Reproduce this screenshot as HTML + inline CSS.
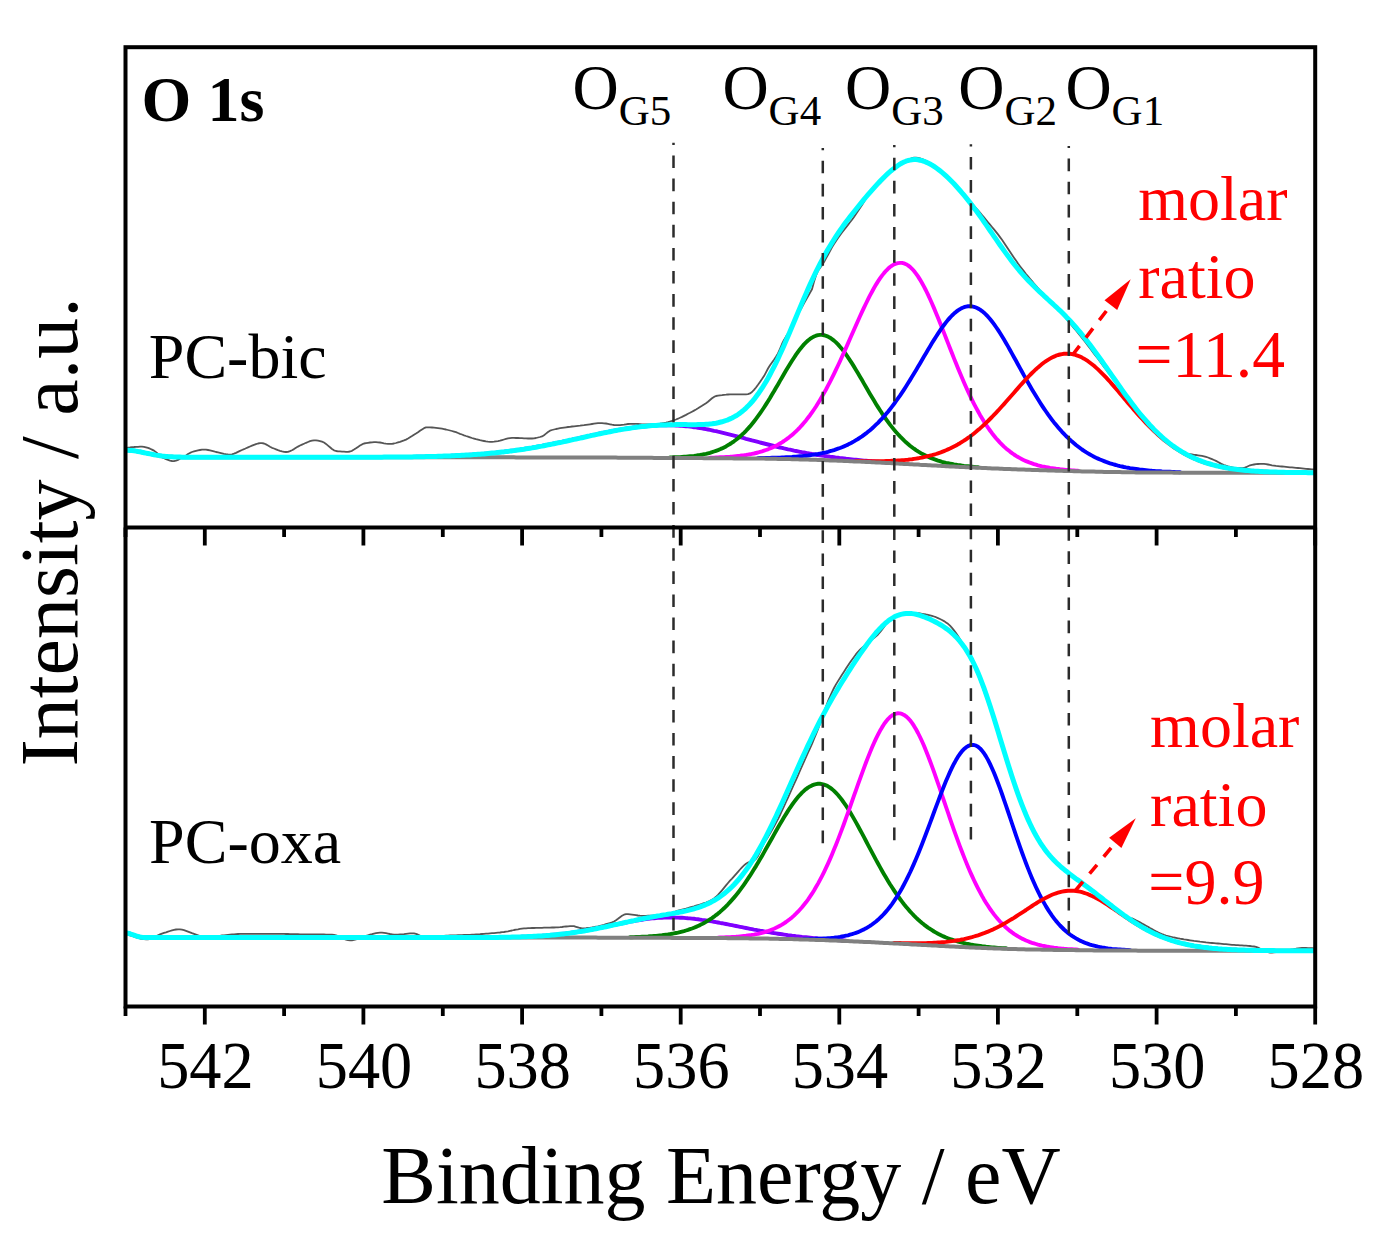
<!DOCTYPE html>
<html><head><meta charset="utf-8"><style>
html,body{margin:0;padding:0;background:#fff;width:1389px;height:1253px;overflow:hidden}
svg{display:block}
text{font-family:"Liberation Serif",serif}
</style></head><body>
<svg width="1389" height="1253" viewBox="0 0 1389 1253">
<defs>
<clipPath id="cu"><rect x="125.5" y="47.2" width="1189.7" height="480.3"/></clipPath>
<clipPath id="cl"><rect x="125.5" y="527.5" width="1189.7" height="479.0"/></clipPath>
</defs>
<rect width="1389" height="1253" fill="#fff"/>
<g clip-path="url(#cu)" fill="none" stroke-linejoin="round" stroke-linecap="round">
<path d="M126,448.5 128,447.6 130,447.4 132,447.1 134,447.0 136,446.8 138,446.8 140,446.7 142,446.7 144,446.8 146,447.3 148,447.9 150,448.7 152,449.6 154,450.6 156,452.1 158,454.0 160,455.9 162,457.4 164,458.3 166,459.2 168,459.9 170,460.6 172,461.0 174,461.1 176,460.7 178,459.9 180,458.8 182,457.7 184,456.6 186,455.4 188,454.1 190,452.9 192,452.0 194,451.4 196,450.8 198,450.3 200,450.0 202,449.7 204,449.6 206,449.7 208,450.0 210,450.4 212,450.9 214,451.4 216,452.0 218,452.4 220,452.8 222,453.3 224,453.8 226,454.2 228,454.5 230,454.6 232,454.4 234,453.7 236,452.9 238,451.9 240,450.9 242,450.0 244,449.2 246,448.3 248,447.4 250,446.5 252,445.6 254,444.8 256,444.1 258,443.5 260,443.2 262,443.1 264,443.5 266,444.4 268,445.5 270,446.7 272,447.8 274,448.5 276,449.3 278,450.1 280,450.8 282,451.4 284,451.8 286,452.0 288,451.8 290,451.1 292,450.2 294,449.1 296,447.8 298,446.6 300,445.5 302,444.6 304,443.7 306,442.8 308,442.0 310,441.2 312,440.7 314,440.3 316,440.3 318,440.6 320,441.1 322,441.7 324,442.5 326,443.9 328,445.6 330,447.3 332,449.0 334,450.3 336,451.0 338,451.3 340,451.4 342,451.6 344,451.7 346,451.8 348,451.8 350,451.5 352,450.8 354,449.6 356,448.3 358,446.9 360,445.6 362,444.4 364,443.5 366,443.1 368,442.8 370,442.5 372,442.3 374,442.1 376,442.1 378,442.3 380,442.5 382,442.9 384,443.3 386,443.6 388,443.8 390,443.9 392,443.8 394,443.5 396,443.0 398,442.4 400,441.8 402,441.1 404,440.4 406,439.6 408,438.5 410,437.3 412,436.1 414,434.8 416,433.6 418,432.3 420,430.8 422,429.4 424,428.2 426,427.4 428,427.3 430,427.4 432,427.5 434,427.7 436,427.9 438,428.1 440,428.3 442,428.7 444,429.1 446,429.5 448,430.0 450,430.5 452,431.0 454,431.6 456,432.2 458,433.0 460,433.8 462,434.5 464,435.3 466,436.0 468,436.6 470,437.3 472,438.0 474,438.6 476,439.2 478,439.7 480,440.2 482,440.6 484,441.0 486,441.4 488,441.7 490,441.8 492,441.8 494,441.6 496,441.3 498,441.1 500,440.7 502,440.1 504,439.5 506,438.9 508,438.4 510,438.1 512,437.9 514,437.9 516,438.0 518,438.0 520,438.1 522,438.2 524,438.3 526,438.4 528,438.5 530,438.5 532,438.5 534,438.3 536,438.0 538,437.5 540,437.0 542,436.4 544,435.2 546,433.6 548,432.0 550,430.7 552,430.0 554,429.5 556,429.0 558,428.6 560,428.2 562,427.9 564,427.6 566,427.3 568,427.0 570,426.8 572,426.5 574,426.3 576,426.1 578,425.9 580,425.7 582,425.4 584,425.2 586,424.9 588,424.6 590,424.3 592,424.0 594,423.7 596,423.4 598,423.2 600,423.1 602,423.1 604,423.3 606,423.5 608,423.9 610,424.3 612,424.7 614,425.0 616,425.2 618,425.2 620,425.1 622,424.8 624,424.6 626,424.3 628,424.0 630,423.8 632,423.8 634,423.8 636,423.9 638,424.0 640,424.1 642,424.3 644,424.4 646,424.4 648,424.5 650,424.5 652,424.4 654,424.3 656,424.1 658,423.8 660,423.6 662,423.3 664,423.0 666,422.6 668,422.1 670,421.5 672,420.9 674,420.2 676,419.5 678,418.7 680,417.8 682,416.9 684,415.9 686,414.9 688,413.8 690,412.8 692,411.7 694,410.6 696,409.5 698,408.3 700,407.0 702,405.8 704,404.5 706,403.2 708,401.7 710,400.0 712,398.3 714,396.9 716,396.0 718,395.6 720,395.3 722,395.1 724,394.8 726,394.7 728,394.5 730,394.4 732,394.3 734,394.3 736,394.3 738,394.3 740,394.3 742,394.3 744,394.3 746,394.3 748,394.2 750,393.4 752,392.0 754,389.9 756,387.5 758,384.8 760,381.9 762,379.1 764,376.1 766,372.4 768,368.5 770,365.2 772,362.4 774,359.7 776,356.8 778,353.4 780,348.8 782,344.0 784,339.9 786,336.6 788,333.6 790,330.5 792,326.9 794,322.8 796,318.6 798,314.5 800,310.7 802,307.0 804,303.3 806,299.7 808,296.2 810,292.7 812,289.3 814,281.8 816,275.4 818,270.8 820,267.9 822,265.3 824,262.1 826,258.4 828,254.7 830,251.0 832,247.4 834,244.1 836,240.9 838,238.0 840,235.2 842,232.5 844,229.9 846,227.4 848,224.9 850,222.3 852,219.7 854,216.9 856,214.0 858,211.0 860,208.0 862,205.0 864,201.7 866,198.0 868,194.7 870,192.4 872,190.5 874,188.7 876,187.0 878,185.2 880,183.3 882,181.2 884,179.1 886,177.1 888,175.1 890,173.1 892,171.3 894,169.5 896,167.8 898,166.3 900,164.8 902,163.4 904,162.2 906,161.1 908,160.0 910,159.0 912,158.2 914,157.7 916,157.6 918,157.9 920,158.3 922,159.0 924,159.8 926,160.7 928,161.8 930,163.0 932,164.2 934,165.6 936,167.1 938,168.7 940,170.4 942,172.1 944,174.0 946,175.9 948,177.8 950,179.7 952,181.8 954,183.8 956,185.8 958,187.9 960,190.0 962,192.2 964,194.4 966,196.6 968,198.9 970,201.2 972,203.5 974,205.8 976,208.1 978,210.4 980,212.7 982,215.0 984,217.4 986,219.9 988,222.3 990,224.7 992,227.0 994,229.4 996,231.9 998,234.4 1000,237.1 1002,239.8 1004,242.7 1006,245.7 1008,248.7 1010,251.7 1012,254.7 1014,257.7 1016,260.6 1018,263.5 1020,266.2 1022,268.8 1024,271.4 1026,274.0 1028,276.4 1030,278.8 1032,281.2 1034,283.5 1036,285.8 1038,288.1 1040,290.3 1042,292.4 1044,294.6 1046,296.7 1048,298.8 1050,300.9 1052,303.0 1054,305.1 1056,307.2 1058,309.4 1060,311.6 1062,313.8 1064,316.1 1066,318.4 1068,320.8 1070,323.3 1072,325.7 1074,328.1 1076,330.5 1078,332.9 1080,335.4 1082,337.9 1084,340.5 1086,343.0 1088,345.7 1090,348.3 1092,350.9 1094,353.6 1096,356.2 1098,358.8 1100,361.5 1102,364.2 1104,366.9 1106,369.5 1108,372.2 1110,374.8 1112,377.5 1114,380.1 1116,382.8 1118,385.4 1120,388.0 1122,390.5 1124,393.1 1126,395.6 1128,398.2 1130,400.8 1132,403.5 1134,406.1 1136,408.7 1138,411.2 1140,413.7 1142,416.1 1144,418.4 1146,420.7 1148,423.0 1150,425.2 1152,427.3 1154,429.4 1156,431.4 1158,433.3 1160,435.2 1162,437.0 1164,438.8 1166,440.5 1168,442.1 1170,443.7 1172,445.2 1174,446.6 1176,448.0 1178,449.4 1180,450.6 1182,452.4 1184,453.0 1186,453.5 1188,453.9 1190,454.2 1192,454.5 1194,454.8 1196,455.0 1198,455.3 1200,455.6 1202,455.9 1204,456.3 1206,456.9 1208,457.5 1210,458.3 1212,459.1 1214,460.0 1216,460.9 1218,462.0 1220,463.1 1222,464.2 1224,465.0 1226,465.7 1228,466.3 1230,466.8 1232,467.3 1234,467.7 1236,467.8 1238,468.0 1240,468.0 1242,468.1 1244,468.0 1246,467.2 1248,466.2 1250,465.3 1252,464.8 1254,464.5 1256,464.2 1258,464.0 1260,463.9 1262,463.8 1264,463.9 1266,464.1 1268,464.5 1270,464.9 1272,465.3 1274,465.6 1276,465.9 1278,466.1 1280,466.3 1282,466.5 1284,466.7 1286,466.9 1288,467.1 1290,467.3 1292,467.4 1294,467.6 1296,467.8 1298,468.0 1300,468.2 1302,468.4 1304,468.6 1306,468.8 1308,469.0 1310,469.2 1312,469.4 1314,469.5 1314,469.6" stroke="#555" stroke-width="1.8"/>
<path d="M416,456.8 418,456.8 420,456.7 422,456.7 424,456.6 426,456.6 428,456.6 430,456.5 432,456.5 434,456.4 436,456.3 438,456.3 440,456.2 442,456.2 444,456.1 446,456.0 448,455.9 450,455.9 452,455.8 454,455.7 456,455.6 458,455.5 460,455.4 462,455.3 464,455.2 466,455.1 468,454.9 470,454.8 472,454.7 474,454.6 476,454.4 478,454.3 480,454.1 482,453.9 484,453.8 486,453.6 488,453.4 490,453.2 492,453.1 494,452.9 496,452.6 498,452.4 500,452.2 502,452.0 504,451.8 506,451.5 508,451.3 510,451.0 512,450.7 514,450.5 516,450.2 518,449.9 520,449.6 522,449.3 524,449.0 526,448.7 528,448.4 530,448.0 532,447.7 534,447.3 536,447.0 538,446.6 540,446.3 542,445.9 544,445.5 546,445.1 548,444.7 550,444.3 552,443.9 554,443.5 556,443.1 558,442.7 560,442.3 562,441.9 564,441.4 566,441.0 568,440.6 570,440.1 572,439.7 574,439.2 576,438.8 578,438.3 580,437.9 582,437.4 584,437.0 586,436.6 588,436.1 590,435.7 592,435.2 594,434.8 596,434.4 598,433.9 600,433.5 602,433.1 604,432.7 606,432.3 608,431.9 610,431.5 612,431.1 614,430.7 616,430.3 618,430.0 620,429.6 622,429.3 624,429.0 626,428.6 628,428.3 630,428.0 632,427.8 634,427.5 636,427.2 638,427.0 640,426.8 642,426.6 644,426.4 646,426.2 648,426.0 650,425.9 652,425.7 654,425.6 656,425.5 658,425.4 660,425.4 662,425.3 664,425.3 666,425.3 668,425.3 670,425.3 672,425.3 674,425.4 676,425.5 678,425.6 680,425.7 682,425.8 684,426.0 686,426.2 688,426.4 690,426.6 692,426.9 694,427.2 696,427.4 698,427.8 700,428.1 702,428.4 704,428.8 706,429.1 708,429.5 710,429.9 712,430.3 714,430.8 716,431.2 718,431.7 720,432.1 722,432.6 724,433.1 726,433.6 728,434.1 730,434.6 732,435.1 734,435.6 736,436.1 738,436.6 740,437.2 742,437.7 744,438.2 746,438.8 748,439.3 750,439.8 752,440.4 754,440.9 756,441.4 758,441.9 760,442.5 762,443.0 764,443.5 766,444.0 768,444.5 770,445.0 772,445.5 774,446.0 776,446.5 778,447.0 780,447.5 782,447.9 784,448.4 786,448.8 788,449.3 790,449.7 792,450.1 794,450.6 796,451.0 798,451.4 800,451.8 802,452.2 804,452.5 806,452.9 808,453.3 810,453.6 812,454.0 814,454.3 816,454.7 818,455.0 820,455.3 822,455.6 824,455.9 826,456.2 828,456.5 830,456.8 832,457.0 834,457.3 836,457.6 838,457.8 840,458.1 842,458.3 844,458.5 846,458.8 848,459.0 850,459.2 852,459.4 854,459.6 856,459.8 858,460.0 860,460.2 862,460.4 864,460.6 866,460.7 868,460.9 870,461.1 872,461.3 874,461.4 876,461.6 878,461.7 880,461.9 882,462.1 884,462.2 886,462.4 888,462.5 890,462.7 892,462.7" stroke="#7F00FF" stroke-width="3.9"/>
<path d="M670,457.5 672,457.4 674,457.3 676,457.2 678,457.2 680,457.1 682,456.9 684,456.8 686,456.7 688,456.5 690,456.3 692,456.1 694,455.9 696,455.6 698,455.3 700,455.0 702,454.6 704,454.2 706,453.8 708,453.3 710,452.8 712,452.2 714,451.5 716,450.8 718,450.1 720,449.3 722,448.4 724,447.4 726,446.4 728,445.2 730,444.0 732,442.7 734,441.3 736,439.8 738,438.2 740,436.5 742,434.7 744,432.8 746,430.8 748,428.6 750,426.4 752,424.0 754,421.5 756,418.9 758,416.2 760,413.4 762,410.5 764,407.5 766,404.4 768,401.2 770,398.0 772,394.6 774,391.3 776,387.8 778,384.4 780,380.9 782,377.5 784,374.0 786,370.6 788,367.3 790,364.0 792,360.8 794,357.7 796,354.7 798,351.9 800,349.2 802,346.7 804,344.4 806,342.4 808,340.5 810,338.9 812,337.6 814,336.5 816,335.7 818,335.1 820,334.9 822,334.9 824,335.2 826,335.8 828,336.6 830,337.7 832,339.1 834,340.6 836,342.4 838,344.4 840,346.7 842,349.1 844,351.6 846,354.4 848,357.3 850,360.3 852,363.4 854,366.6 856,369.9 858,373.3 860,376.7 862,380.1 864,383.6 866,387.0 868,390.5 870,393.9 872,397.3 874,400.6 876,403.9 878,407.1 880,410.2 882,413.3 884,416.2 886,419.1 888,421.9 890,424.6 892,427.1 894,429.6 896,432.0 898,434.2 900,436.4 902,438.4 904,440.4 906,442.3 908,444.0 910,445.7 912,447.2 914,448.7 916,450.1 918,451.4 920,452.6 922,453.8 924,454.8 926,455.8 928,456.8 930,457.6 932,458.5 934,459.2 936,459.9 938,460.6 940,461.2 942,461.8 944,462.3 946,462.8 948,463.2 950,463.6 952,464.0 954,464.4 956,464.7 958,465.1 960,465.3 962,465.6 964,465.9 966,466.1 968,466.3 970,466.5 972,466.7 974,466.9 976,467.1 978,467.3" stroke="#008000" stroke-width="3.9"/>
<path d="M710,457.7 712,457.6 714,457.6 716,457.5 718,457.4 720,457.3 722,457.2 724,457.1 726,457.0 728,456.9 730,456.8 732,456.6 734,456.4 736,456.2 738,456.0 740,455.8 742,455.5 744,455.3 746,455.0 748,454.6 750,454.3 752,453.9 754,453.5 756,453.0 758,452.5 760,451.9 762,451.4 764,450.7 766,450.0 768,449.3 770,448.5 772,447.6 774,446.7 776,445.7 778,444.7 780,443.5 782,442.3 784,441.0 786,439.6 788,438.2 790,436.6 792,434.9 794,433.2 796,431.3 798,429.4 800,427.3 802,425.1 804,422.8 806,420.4 808,417.8 810,415.2 812,412.4 814,409.5 816,406.5 818,403.3 820,400.0 822,396.6 824,393.1 826,389.5 828,385.7 830,381.9 832,377.9 834,373.9 836,369.7 838,365.5 840,361.2 842,356.8 844,352.4 846,347.9 848,343.4 850,338.8 852,334.3 854,329.8 856,325.2 858,320.7 860,316.3 862,311.9 864,307.6 866,303.5 868,299.4 870,295.4 872,291.7 874,288.0 876,284.6 878,281.4 880,278.4 882,275.6 884,273.1 886,270.8 888,268.8 890,267.0 892,265.6 894,264.4 896,263.6 898,263.1 900,262.9 902,262.9 904,263.4 906,264.2 908,265.4 910,266.9 912,268.8 914,271.0 916,273.6 918,276.4 920,279.6 922,283.0 924,286.6 926,290.5 928,294.7 930,299.0 932,303.5 934,308.1 936,312.9 938,317.8 940,322.8 942,327.8 944,332.9 946,338.0 948,343.1 950,348.2 952,353.3 954,358.4 956,363.3 958,368.3 960,373.1 962,377.8 964,382.5 966,387.0 968,391.4 970,395.6 972,399.8 974,403.8 976,407.6 978,411.3 980,414.9 982,418.3 984,421.6 986,424.7 988,427.7 990,430.5 992,433.2 994,435.7 996,438.2 998,440.4 1000,442.6 1002,444.6 1004,446.6 1006,448.4 1008,450.0 1010,451.6 1012,453.1 1014,454.5 1016,455.8 1018,457.0 1020,458.1 1022,459.2 1024,460.2 1026,461.1 1028,461.9 1030,462.7 1032,463.4 1034,464.1 1036,464.7 1038,465.3 1040,465.8 1042,466.3 1044,466.7 1046,467.1 1048,467.5 1050,467.9 1052,468.2 1054,468.5 1056,468.8 1058,469.0 1060,469.3 1062,469.5 1064,469.7 1066,469.9 1068,470.0 1070,470.2 1072,470.4 1074,470.5 1076,470.6 1078,470.7" stroke="#FF00FF" stroke-width="3.9"/>
<path d="M758,458.1 760,458.0 762,458.0 764,458.0 766,457.9 768,457.9 770,457.9 772,457.8 774,457.8 776,457.7 778,457.6 780,457.6 782,457.5 784,457.4 786,457.3 788,457.2 790,457.1 792,457.0 794,456.8 796,456.7 798,456.5 800,456.3 802,456.1 804,455.9 806,455.7 808,455.5 810,455.2 812,454.9 814,454.6 816,454.3 818,454.0 820,453.6 822,453.2 824,452.7 826,452.3 828,451.8 830,451.2 832,450.7 834,450.1 836,449.4 838,448.7 840,448.0 842,447.2 844,446.4 846,445.5 848,444.6 850,443.6 852,442.5 854,441.4 856,440.2 858,439.0 860,437.7 862,436.4 864,434.9 866,433.4 868,431.8 870,430.2 872,428.5 874,426.6 876,424.7 878,422.8 880,420.7 882,418.6 884,416.4 886,414.0 888,411.7 890,409.2 892,406.6 894,404.0 896,401.2 898,398.4 900,395.6 902,392.6 904,389.6 906,386.5 908,383.3 910,380.1 912,376.8 914,373.5 916,370.2 918,366.8 920,363.4 922,360.0 924,356.6 926,353.2 928,349.8 930,346.4 932,343.1 934,339.9 936,336.7 938,333.6 940,330.6 942,327.7 944,325.0 946,322.4 948,319.9 950,317.6 952,315.5 954,313.6 956,311.9 958,310.4 960,309.1 962,308.0 964,307.2 966,306.6 968,306.3 970,306.2 972,306.4 974,306.8 976,307.5 978,308.5 980,309.7 982,311.1 984,312.7 986,314.6 988,316.7 990,319.0 992,321.5 994,324.1 996,327.0 998,329.9 1000,333.0 1002,336.2 1004,339.5 1006,342.9 1008,346.4 1010,350.0 1012,353.6 1014,357.2 1016,360.8 1018,364.5 1020,368.1 1022,371.7 1024,375.4 1026,378.9 1028,382.5 1030,386.0 1032,389.4 1034,392.8 1036,396.1 1038,399.3 1040,402.5 1042,405.6 1044,408.6 1046,411.5 1048,414.4 1050,417.1 1052,419.8 1054,422.4 1056,424.8 1058,427.2 1060,429.5 1062,431.8 1064,433.9 1066,436.0 1068,437.9 1070,439.8 1072,441.6 1074,443.3 1076,445.0 1078,446.5 1080,448.0 1082,449.5 1084,450.8 1086,452.1 1088,453.3 1090,454.5 1092,455.6 1094,456.7 1096,457.7 1098,458.6 1100,459.5 1102,460.3 1104,461.1 1106,461.9 1108,462.6 1110,463.3 1112,463.9 1114,464.5 1116,465.0 1118,465.6 1120,466.1 1122,466.5 1124,467.0 1126,467.4 1128,467.7 1130,468.1 1132,468.4 1134,468.7 1136,469.0 1138,469.3 1140,469.6 1142,469.8 1144,470.0 1146,470.2 1148,470.4 1150,470.6 1152,470.8 1154,470.9 1156,471.1 1158,471.2 1160,471.3 1162,471.5 1164,471.6 1166,471.7 1168,471.7 1170,471.8 1172,471.9 1174,472.0 1176,472.1 1178,472.1 1180,472.2" stroke="#0000FF" stroke-width="3.9"/>
<path d="M856,460.9 858,461.0 860,461.0 862,461.0 864,461.1 866,461.1 868,461.1 870,461.1 872,461.2 874,461.2 876,461.2 878,461.1 880,461.1 882,461.1 884,461.1 886,461.0 888,461.0 890,460.9 892,460.8 894,460.7 896,460.6 898,460.5 900,460.4 902,460.2 904,460.1 906,459.9 908,459.7 910,459.4 912,459.2 914,458.9 916,458.6 918,458.3 920,457.9 922,457.6 924,457.1 926,456.7 928,456.2 930,455.7 932,455.2 934,454.6 936,454.0 938,453.3 940,452.7 942,451.9 944,451.1 946,450.3 948,449.4 950,448.5 952,447.5 954,446.5 956,445.5 958,444.3 960,443.2 962,441.9 964,440.7 966,439.3 968,437.9 970,436.5 972,435.0 974,433.4 976,431.8 978,430.1 980,428.4 982,426.6 984,424.8 986,422.9 988,421.0 990,419.0 992,417.0 994,414.9 996,412.8 998,410.7 1000,408.5 1002,406.3 1004,404.1 1006,401.8 1008,399.5 1010,397.2 1012,395.0 1014,392.7 1016,390.4 1018,388.1 1020,385.8 1022,383.6 1024,381.4 1026,379.2 1028,377.1 1030,375.0 1032,373.0 1034,371.1 1036,369.2 1038,367.4 1040,365.7 1042,364.1 1044,362.5 1046,361.1 1048,359.8 1050,358.6 1052,357.5 1054,356.6 1056,355.7 1058,355.0 1060,354.5 1062,354.1 1064,353.8 1066,353.7 1068,353.7 1070,353.8 1072,354.1 1074,354.5 1076,355.1 1078,355.8 1080,356.6 1082,357.6 1084,358.7 1086,359.9 1088,361.2 1090,362.7 1092,364.2 1094,365.8 1096,367.6 1098,369.4 1100,371.3 1102,373.3 1104,375.3 1106,377.4 1108,379.6 1110,381.8 1112,384.1 1114,386.4 1116,388.7 1118,391.0 1120,393.4 1122,395.8 1124,398.1 1126,400.5 1128,402.9 1130,405.2 1132,407.5 1134,409.9 1136,412.1 1138,414.4 1140,416.6 1142,418.8 1144,421.0 1146,423.1 1148,425.1 1150,427.2 1152,429.1 1154,431.0 1156,432.9 1158,434.7 1160,436.5 1162,438.2 1164,439.9 1166,441.5 1168,443.0 1170,444.5 1172,445.9 1174,447.3 1176,448.7 1178,449.9 1180,451.2 1182,452.4 1184,453.5 1186,454.6 1188,455.6 1190,456.6 1192,457.5 1194,458.4 1196,459.3 1198,460.1 1200,460.9 1202,461.6 1204,462.3 1206,462.9 1208,463.6 1210,464.2 1212,464.7 1214,465.2 1216,465.7 1218,466.2 1220,466.7 1222,467.1 1224,467.5 1226,467.8 1228,468.2 1230,468.5 1232,468.8 1234,469.1 1236,469.4 1238,469.6 1240,469.8 1242,470.1 1244,470.3 1246,470.5 1248,470.6 1250,470.8 1252,471.0 1254,471.1 1256,471.2 1258,471.4 1260,471.5 1262,471.6 1264,471.7 1266,471.8 1268,471.9 1270,471.9 1272,472.0 1274,472.1 1276,472.1 1278,472.2 1280,472.2 1282,472.3" stroke="#FF0000" stroke-width="3.9"/>
<path d="M126,450.3 128,450.3 130,450.4 132,450.6 134,450.8 136,451.1 138,451.5 140,451.8 142,452.3 144,452.7 146,453.1 148,453.5 150,453.9 152,454.3 154,454.7 156,455.1 158,455.4 160,455.7 162,456.0 164,456.2 166,456.4 168,456.6 170,456.7 172,456.8 174,456.9 176,457.0 178,457.1 180,457.1 182,457.2 184,457.2 186,457.2 188,457.2 190,457.3 192,457.3 194,457.3 196,457.3 198,457.3 200,457.3 202,457.3 204,457.3 206,457.3 208,457.3 210,457.3 212,457.3 214,457.3 216,457.3 218,457.3 220,457.3 222,457.3 224,457.3 226,457.3 228,457.3 230,457.3 232,457.3 234,457.3 236,457.3 238,457.3 240,457.3 242,457.3 244,457.3 246,457.3 248,457.3 250,457.3 252,457.3 254,457.3 256,457.3 258,457.3 260,457.3 262,457.3 264,457.3 266,457.3 268,457.3 270,457.3 272,457.3 274,457.3 276,457.3 278,457.3 280,457.3 282,457.3 284,457.3 286,457.3 288,457.3 290,457.3 292,457.3 294,457.3 296,457.3 298,457.3 300,457.3 302,457.3 304,457.3 306,457.3 308,457.3 310,457.3 312,457.3 314,457.3 316,457.3 318,457.3 320,457.3 322,457.3 324,457.3 326,457.3 328,457.3 330,457.3 332,457.3 334,457.3 336,457.3 338,457.3 340,457.3 342,457.3 344,457.3 346,457.3 348,457.3 350,457.3 352,457.3 354,457.3 356,457.3 358,457.3 360,457.3 362,457.3 364,457.3 366,457.3 368,457.3 370,457.3 372,457.3 374,457.3 376,457.3 378,457.3 380,457.3 382,457.3 384,457.3 386,457.3 388,457.3 390,457.3 392,457.3 394,457.3 396,457.3 398,457.3 400,457.3 402,457.3 404,457.3 406,457.3 408,457.3 410,457.3 412,457.3 414,457.3 416,457.3 418,457.3 420,457.3 422,457.3 424,457.3 426,457.3 428,457.3 430,457.3 432,457.3 434,457.3 436,457.3 438,457.3 440,457.3 442,457.3 444,457.3 446,457.3 448,457.3 450,457.3 452,457.3 454,457.3 456,457.3 458,457.3 460,457.3 462,457.3 464,457.3 466,457.3 468,457.3 470,457.3 472,457.3 474,457.3 476,457.3 478,457.3 480,457.3 482,457.3 484,457.3 486,457.3 488,457.3 490,457.3 492,457.3 494,457.3 496,457.3 498,457.3 500,457.3 502,457.3 504,457.3 506,457.3 508,457.3 510,457.3 512,457.3 514,457.3 516,457.4 518,457.4 520,457.4 522,457.4 524,457.4 526,457.4 528,457.4 530,457.4 532,457.4 534,457.4 536,457.4 538,457.4 540,457.4 542,457.4 544,457.4 546,457.4 548,457.4 550,457.4 552,457.4 554,457.4 556,457.4 558,457.4 560,457.4 562,457.4 564,457.4 566,457.5 568,457.5 570,457.5 572,457.5 574,457.5 576,457.5 578,457.5 580,457.5 582,457.5 584,457.5 586,457.5 588,457.5 590,457.5 592,457.5 594,457.5 596,457.6 598,457.6 600,457.6 602,457.6 604,457.6 606,457.6 608,457.6 610,457.6 612,457.6 614,457.6 616,457.6 618,457.7 620,457.7 622,457.7 624,457.7 626,457.7 628,457.7 630,457.7 632,457.7 634,457.7 636,457.8 638,457.8 640,457.8 642,457.8 644,457.8 646,457.8 648,457.8 650,457.8 652,457.8 654,457.9 656,457.9 658,457.9 660,457.9 662,457.9 664,457.9 666,457.9 668,457.9 670,458.0 672,458.0 674,458.0 676,458.0 678,458.0 680,458.0 682,458.0 684,458.0 686,458.0 688,458.1 690,458.1 692,458.1 694,458.1 696,458.1 698,458.1 700,458.1 702,458.1 704,458.2 706,458.2 708,458.2 710,458.2 712,458.2 714,458.2 716,458.2 718,458.2 720,458.3 722,458.3 724,458.3 726,458.3 728,458.3 730,458.3 732,458.3 734,458.4 736,458.4 738,458.4 740,458.4 742,458.4 744,458.4 746,458.4 748,458.5 750,458.5 752,458.5 754,458.5 756,458.5 758,458.6 760,458.6 762,458.6 764,458.6 766,458.7 768,458.7 770,458.7 772,458.8 774,458.8 776,458.8 778,458.9 780,458.9 782,458.9 784,459.0 786,459.0 788,459.1 790,459.1 792,459.2 794,459.2 796,459.3 798,459.3 800,459.4 802,459.4 804,459.5 806,459.5 808,459.6 810,459.7 812,459.7 814,459.8 816,459.8 818,459.9 820,460.0 822,460.1 824,460.1 826,460.2 828,460.3 830,460.4 832,460.4 834,460.5 836,460.6 838,460.7 840,460.8 842,460.8 844,460.9 846,461.0 848,461.1 850,461.2 852,461.3 854,461.4 856,461.5 858,461.5 860,461.6 862,461.7 864,461.8 866,461.9 868,462.0 870,462.1 872,462.2 874,462.3 876,462.4 878,462.5 880,462.6 882,462.7 884,462.8 886,462.9 888,463.0 890,463.1 892,463.2 894,463.3 896,463.4 898,463.6 900,463.7 902,463.8 904,463.9 906,464.0 908,464.1 910,464.2 912,464.3 914,464.4 916,464.5 918,464.6 920,464.8 922,464.9 924,465.0 926,465.1 928,465.2 930,465.3 932,465.4 934,465.5 936,465.6 938,465.7 940,465.8 942,466.0 944,466.1 946,466.2 948,466.3 950,466.4 952,466.5 954,466.6 956,466.7 958,466.8 960,466.9 962,467.0 964,467.1 966,467.2 968,467.3 970,467.4 972,467.5 974,467.6 976,467.7 978,467.8 980,467.8 982,467.9 984,468.0 986,468.1 988,468.2 990,468.3 992,468.4 994,468.5 996,468.5 998,468.6 1000,468.7 1002,468.8 1004,468.9 1006,468.9 1008,469.0 1010,469.1 1012,469.2 1014,469.3 1016,469.3 1018,469.4 1020,469.5 1022,469.5 1024,469.6 1026,469.7 1028,469.8 1030,469.8 1032,469.9 1034,470.0 1036,470.0 1038,470.1 1040,470.2 1042,470.2 1044,470.3 1046,470.3 1048,470.4 1050,470.5 1052,470.5 1054,470.6 1056,470.7 1058,470.7 1060,470.8 1062,470.8 1064,470.9 1066,470.9 1068,471.0 1070,471.0 1072,471.1 1074,471.2 1076,471.2 1078,471.3 1080,471.3 1082,471.4 1084,471.4 1086,471.5 1088,471.5 1090,471.6 1092,471.6 1094,471.6 1096,471.7 1098,471.7 1100,471.8 1102,471.8 1104,471.9 1106,471.9 1108,471.9 1110,472.0 1112,472.0 1114,472.0 1116,472.1 1118,472.1 1120,472.1 1122,472.2 1124,472.2 1126,472.2 1128,472.3 1130,472.3 1132,472.3 1134,472.3 1136,472.4 1138,472.4 1140,472.4 1142,472.4 1144,472.4 1146,472.5 1148,472.5 1150,472.5 1152,472.5 1154,472.5 1156,472.5 1158,472.6 1160,472.6 1162,472.6 1164,472.6 1166,472.6 1168,472.6 1170,472.6 1172,472.6 1174,472.7 1176,472.7 1178,472.7 1180,472.7 1182,472.7 1184,472.7 1186,472.7 1188,472.7 1190,472.7 1192,472.7 1194,472.7 1196,472.7 1198,472.7 1200,472.7 1202,472.7 1204,472.7 1206,472.8 1208,472.8 1210,472.8 1212,472.8 1214,472.8 1216,472.8 1218,472.8 1220,472.8 1222,472.8 1224,472.8 1226,472.8 1228,472.8 1230,472.8 1232,472.8 1234,472.8 1236,472.8 1238,472.8 1240,472.8 1242,472.8 1244,472.8 1246,472.8 1248,472.8 1250,472.8 1252,472.8 1254,472.8 1256,472.8 1258,472.8 1260,472.8 1262,472.8 1264,472.8 1266,472.8 1268,472.8 1270,472.8 1272,472.8 1274,472.8 1276,472.8 1278,472.8 1280,472.8 1282,472.8 1284,472.8 1286,472.8 1288,472.8 1290,472.8 1292,472.8 1294,472.8 1296,472.8 1298,472.8 1300,472.8 1302,472.8 1304,472.8 1306,472.8 1308,472.8 1310,472.8 1312,472.8 1314,472.8 1314,472.8" stroke="#808080" stroke-width="4"/>
<path d="M126,450.3 128,450.3 130,450.4 132,450.6 134,450.8 136,451.1 138,451.5 140,451.8 142,452.3 144,452.7 146,453.1 148,453.5 150,453.9 152,454.3 154,454.7 156,455.1 158,455.4 160,455.7 162,456.0 164,456.2 166,456.4 168,456.6 170,456.7 172,456.8 174,456.9 176,457.0 178,457.1 180,457.1 182,457.2 184,457.2 186,457.2 188,457.2 190,457.3 192,457.3 194,457.3 196,457.3 198,457.3 200,457.3 202,457.3 204,457.3 206,457.3 208,457.3 210,457.3 212,457.3 214,457.3 216,457.3 218,457.3 220,457.3 222,457.3 224,457.3 226,457.3 228,457.3 230,457.3 232,457.3 234,457.3 236,457.3 238,457.3 240,457.3 242,457.3 244,457.3 246,457.3 248,457.3 250,457.3 252,457.3 254,457.3 256,457.3 258,457.3 260,457.3 262,457.3 264,457.3 266,457.3 268,457.3 270,457.3 272,457.3 274,457.3 276,457.3 278,457.3 280,457.3 282,457.3 284,457.3 286,457.3 288,457.3 290,457.3 292,457.3 294,457.3 296,457.3 298,457.3 300,457.3 302,457.3 304,457.3 306,457.3 308,457.3 310,457.3 312,457.3 314,457.3 316,457.3 318,457.3 320,457.3 322,457.3 324,457.3 326,457.3 328,457.3 330,457.3 332,457.3 334,457.3 336,457.3 338,457.3 340,457.3 342,457.3 344,457.3 346,457.3 348,457.3 350,457.3 352,457.3 354,457.3 356,457.2 358,457.2 360,457.2 362,457.2 364,457.2 366,457.2 368,457.2 370,457.2 372,457.2 374,457.2 376,457.2 378,457.2 380,457.2 382,457.2 384,457.1 386,457.1 388,457.1 390,457.1 392,457.1 394,457.1 396,457.1 398,457.0 400,457.0 402,457.0 404,457.0 406,457.0 408,456.9 410,456.9 412,456.9 414,456.8 416,456.8 418,456.8 420,456.7 422,456.7 424,456.7 426,456.6 428,456.6 430,456.5 432,456.5 434,456.4 436,456.4 438,456.3 440,456.3 442,456.2 444,456.1 446,456.1 448,456.0 450,455.9 452,455.8 454,455.7 456,455.6 458,455.5 460,455.4 462,455.3 464,455.2 466,455.1 468,455.0 470,454.9 472,454.8 474,454.6 476,454.5 478,454.3 480,454.2 482,454.0 484,453.9 486,453.7 488,453.5 490,453.3 492,453.1 494,453.0 496,452.8 498,452.5 500,452.3 502,452.1 504,451.9 506,451.6 508,451.4 510,451.1 512,450.9 514,450.6 516,450.3 518,450.0 520,449.8 522,449.5 524,449.2 526,448.8 528,448.5 530,448.2 532,447.9 534,447.5 536,447.2 538,446.8 540,446.4 542,446.1 544,445.7 546,445.3 548,444.9 550,444.5 552,444.1 554,443.7 556,443.3 558,442.9 560,442.5 562,442.1 564,441.6 566,441.2 568,440.8 570,440.3 572,439.9 574,439.4 576,439.0 578,438.6 580,438.1 582,437.7 584,437.2 586,436.8 588,436.3 590,435.9 592,435.4 594,435.0 596,434.6 598,434.1 600,433.7 602,433.3 604,432.9 606,432.5 608,432.1 610,431.7 612,431.3 614,430.9 616,430.5 618,430.1 620,429.8 622,429.4 624,429.1 626,428.8 628,428.5 630,428.2 632,427.9 634,427.6 636,427.3 638,427.1 640,426.8 642,426.6 644,426.4 646,426.2 648,426.0 650,425.8 652,425.6 654,425.5 656,425.4 658,425.2 660,425.1 662,425.0 664,424.9 666,424.9 668,424.8 670,424.7 672,424.7 674,424.7 676,424.6 678,424.6 680,424.6 682,424.6 684,424.6 686,424.6 688,424.7 690,424.7 692,424.7 694,424.7 696,424.7 698,424.6 700,424.6 702,424.5 704,424.4 706,424.3 708,424.2 710,424.0 712,423.8 714,423.5 716,423.2 718,422.8 720,422.3 722,421.8 724,421.2 726,420.5 728,419.8 730,418.9 732,418.0 734,416.9 736,415.8 738,414.5 740,413.1 742,411.5 744,409.9 746,408.1 748,406.1 750,404.0 752,401.8 754,399.4 756,396.8 758,394.1 760,391.2 762,388.2 764,385.0 766,381.7 768,378.2 770,374.5 772,370.7 774,366.8 776,362.8 778,358.6 780,354.3 782,349.9 784,345.4 786,340.8 788,336.2 790,331.5 792,326.7 794,322.0 796,317.2 798,312.4 800,307.7 802,302.9 804,298.3 806,293.7 808,289.1 810,284.6 812,280.3 814,276.0 816,271.8 818,267.8 820,263.9 822,260.1 824,256.4 826,252.8 828,249.3 830,246.0 832,242.7 834,239.5 836,236.4 838,233.4 840,230.5 842,227.6 844,224.8 846,222.1 848,219.4 850,216.8 852,214.2 854,211.7 856,209.2 858,206.7 860,204.2 862,201.8 864,199.4 866,197.0 868,194.7 870,192.4 872,190.1 874,187.8 876,185.6 878,183.4 880,181.3 882,179.2 884,177.2 886,175.3 888,173.4 890,171.7 892,170.0 894,168.4 896,166.9 898,165.5 900,164.2 902,163.0 904,162.0 906,161.2 908,160.5 910,160.1 912,159.7 914,159.6 916,159.6 918,159.8 920,160.2 922,160.6 924,161.3 926,162.1 928,163.0 930,164.0 932,165.1 934,166.4 936,167.8 938,169.2 940,170.8 942,172.4 944,174.1 946,175.9 948,177.8 950,179.8 952,181.8 954,183.8 956,186.0 958,188.2 960,190.5 962,192.8 964,195.2 966,197.6 968,200.1 970,202.6 972,205.2 974,207.9 976,210.6 978,213.3 980,216.1 982,218.9 984,221.8 986,224.7 988,227.6 990,230.5 992,233.4 994,236.3 996,239.2 998,242.1 1000,245.0 1002,247.8 1004,250.6 1006,253.4 1008,256.1 1010,258.8 1012,261.4 1014,264.0 1016,266.5 1018,268.9 1020,271.3 1022,273.6 1024,275.9 1026,278.1 1028,280.2 1030,282.3 1032,284.3 1034,286.3 1036,288.3 1038,290.2 1040,292.1 1042,293.9 1044,295.8 1046,297.6 1048,299.5 1050,301.3 1052,303.1 1054,305.0 1056,306.8 1058,308.7 1060,310.6 1062,312.6 1064,314.6 1066,316.6 1068,318.7 1070,320.8 1072,323.0 1074,325.2 1076,327.5 1078,329.8 1080,332.2 1082,334.6 1084,337.1 1086,339.6 1088,342.2 1090,344.8 1092,347.5 1094,350.2 1096,352.9 1098,355.7 1100,358.5 1102,361.3 1104,364.1 1106,367.0 1108,369.9 1110,372.7 1112,375.6 1114,378.5 1116,381.3 1118,384.2 1120,387.0 1122,389.9 1124,392.7 1126,395.4 1128,398.1 1130,400.8 1132,403.5 1134,406.1 1136,408.7 1138,411.2 1140,413.7 1142,416.1 1144,418.4 1146,420.7 1148,423.0 1150,425.2 1152,427.3 1154,429.4 1156,431.4 1158,433.3 1160,435.2 1162,437.0 1164,438.8 1166,440.5 1168,442.1 1170,443.7 1172,445.2 1174,446.6 1176,448.0 1178,449.4 1180,450.6 1182,451.9 1184,453.0 1186,454.2 1188,455.2 1190,456.2 1192,457.2 1194,458.1 1196,459.0 1198,459.9 1200,460.6 1202,461.4 1204,462.1 1206,462.8 1208,463.4 1210,464.0 1212,464.6 1214,465.1 1216,465.7 1218,466.1 1220,466.6 1222,467.0 1224,467.4 1226,467.8 1228,468.1 1230,468.5 1232,468.8 1234,469.1 1236,469.3 1238,469.6 1240,469.8 1242,470.0 1244,470.2 1246,470.4 1248,470.6 1250,470.8 1252,470.9 1254,471.1 1256,471.2 1258,471.3 1260,471.5 1262,471.6 1264,471.7 1266,471.8 1268,471.8 1270,471.9 1272,472.0 1274,472.1 1276,472.1 1278,472.2 1280,472.2 1282,472.3 1284,472.3 1286,472.4 1288,472.4 1290,472.4 1292,472.5 1294,472.5 1296,472.5 1298,472.6 1300,472.6 1302,472.6 1304,472.6 1306,472.6 1308,472.7 1310,472.7 1312,472.7 1314,472.7 1314,472.7" stroke="#00FFFF" stroke-width="5"/>
</g>
<g clip-path="url(#cl)" fill="none" stroke-linejoin="round" stroke-linecap="round">
<path d="M126,933.5 128,934.5 130,935.3 132,936.0 134,936.7 136,937.3 138,937.9 140,938.5 142,938.9 144,939.2 146,939.4 148,939.3 150,938.9 152,938.2 154,937.3 156,936.3 158,935.3 160,934.4 162,933.6 164,932.9 166,932.3 168,931.6 170,931.0 172,930.4 174,929.9 176,929.5 178,929.3 180,929.3 182,929.6 184,930.1 186,930.8 188,931.6 190,932.4 192,933.2 194,933.9 196,934.6 198,935.4 200,936.2 202,936.9 204,937.3 206,937.4 208,937.3 210,937.1 212,936.9 214,936.6 216,936.3 218,936.1 220,935.8 222,935.5 224,935.3 226,935.1 228,934.9 230,934.7 232,934.5 234,934.3 236,934.1 238,934.0 240,933.9 242,933.9 244,933.9 246,933.9 248,933.9 250,933.9 252,933.9 254,933.9 256,933.9 258,933.9 260,933.9 262,933.9 264,933.9 266,933.9 268,933.9 270,933.9 272,933.9 274,933.9 276,933.9 278,933.9 280,933.9 282,933.9 284,933.9 286,934.0 288,934.0 290,934.1 292,934.1 294,934.1 296,934.2 298,934.2 300,934.3 302,934.3 304,934.3 306,934.4 308,934.4 310,934.4 312,934.4 314,934.4 316,934.4 318,934.5 320,934.5 322,934.5 324,934.5 326,934.6 328,934.6 330,934.6 332,934.7 334,934.9 336,935.4 338,936.2 340,937.1 342,938.0 344,938.9 346,939.6 348,940.2 350,940.4 352,940.3 354,939.9 356,939.3 358,938.6 360,937.9 362,937.1 364,936.4 366,935.9 368,935.3 370,934.7 372,934.2 374,933.6 376,933.2 378,932.9 380,932.7 382,932.7 384,932.9 386,933.2 388,933.6 390,934.0 392,934.3 394,934.6 396,934.7 398,934.7 400,934.5 402,934.3 404,934.1 406,933.8 408,933.6 410,933.4 412,933.3 414,933.4 416,933.9 418,934.7 420,935.6 422,936.3 424,936.8 426,936.8 428,936.8 430,936.7 432,936.6 434,936.5 436,936.4 438,936.3 440,936.1 442,936.0 444,935.9 446,935.7 448,935.6 450,935.5 452,935.4 454,935.4 456,935.3 458,935.2 460,935.1 462,935.1 464,935.0 466,934.9 468,934.8 470,934.8 472,934.7 474,934.6 476,934.4 478,934.3 480,934.2 482,934.0 484,933.9 486,933.7 488,933.6 490,933.4 492,933.2 494,933.1 496,932.9 498,932.7 500,932.5 502,932.2 504,932.0 506,931.6 508,931.3 510,930.9 512,930.5 514,930.0 516,929.6 518,929.3 520,928.9 522,928.6 524,928.4 526,928.3 528,928.2 530,928.1 532,928.0 534,928.0 536,927.9 538,927.9 540,927.8 542,927.8 544,927.7 546,927.7 548,927.6 550,927.6 552,927.5 554,927.5 556,927.4 558,927.3 560,927.2 562,927.0 564,926.7 566,926.5 568,926.3 570,926.2 572,926.1 574,926.2 576,926.8 578,927.4 580,928.0 582,928.3 584,928.3 586,928.2 588,928.0 590,927.8 592,927.5 594,927.1 596,926.7 598,926.3 600,925.8 602,925.3 604,924.8 606,924.2 608,923.6 610,923.0 612,922.4 614,921.6 616,920.3 618,918.8 620,917.2 622,915.8 624,914.7 626,914.2 628,914.2 630,914.4 632,914.6 634,914.9 636,915.2 638,915.5 640,915.7 642,915.8 644,915.8 646,915.8 648,915.7 650,915.7 652,915.6 654,915.5 656,915.4 658,915.3 660,915.2 662,915.1 664,914.8 666,914.4 668,913.9 670,913.3 672,912.6 674,912.0 676,911.3 678,910.7 680,910.1 682,909.6 684,909.1 686,908.6 688,908.0 690,907.4 692,906.8 694,906.3 696,905.7 698,905.1 700,904.5 702,903.9 704,903.2 706,902.5 708,901.7 710,900.8 712,899.7 714,898.4 716,896.8 718,894.8 720,892.6 722,890.3 724,887.9 726,885.4 728,883.0 730,880.7 732,878.6 734,876.4 736,874.1 738,871.8 740,869.5 742,867.3 744,865.4 746,863.8 748,862.6 750,861.9 752,861.4 754,860.6 756,858.8 758,855.9 760,851.9 762,847.3 764,843.0 766,840.0 768,836.9 770,833.5 772,830.1 774,826.6 776,822.9 778,819.1 780,815.0 782,810.7 784,806.4 786,802.0 788,797.6 790,793.2 792,788.7 794,784.2 796,779.8 798,775.3 800,770.7 802,766.2 804,761.7 806,757.2 808,752.7 810,748.3 812,743.8 814,739.0 816,734.1 818,729.1 820,723.8 822,717.9 824,712.2 826,706.5 828,701.2 830,696.5 832,692.1 834,688.0 836,684.4 838,681.1 840,677.9 842,674.8 844,671.7 846,668.6 848,665.6 850,662.6 852,659.7 854,656.9 856,654.2 858,651.8 860,649.7 862,647.9 864,646.1 866,644.5 868,642.7 870,641.0 872,639.5 874,638.0 876,636.4 878,634.5 880,632.2 882,629.6 884,626.9 886,624.2 888,621.8 890,619.7 892,618.3 894,617.1 896,616.1 898,615.3 900,614.6 902,614.1 904,613.7 906,613.5 908,613.3 910,613.2 912,613.1 914,613.1 916,613.1 918,613.2 920,613.5 922,613.8 924,614.1 926,614.5 928,614.8 930,615.3 932,615.8 934,616.5 936,617.2 938,618.1 940,619.0 942,620.0 944,621.1 946,622.4 948,623.8 950,625.7 952,627.9 954,630.4 956,633.1 958,636.0 960,639.3 962,642.7 964,646.3 966,649.8 968,653.5 970,657.4 972,661.5 974,665.8 976,670.4 978,675.2 980,680.3 982,685.6 984,691.1 986,696.8 988,702.6 990,708.6 992,714.7 994,720.9 996,727.2 998,733.5 1000,739.9 1002,746.3 1004,752.6 1006,758.7 1008,764.8 1010,770.8 1012,776.7 1014,782.6 1016,788.4 1018,794.1 1020,799.6 1022,804.9 1024,809.9 1026,814.8 1028,819.4 1030,823.7 1032,827.9 1034,831.8 1036,835.5 1038,839.0 1040,842.3 1042,845.3 1044,848.2 1046,850.9 1048,853.5 1050,855.9 1052,858.1 1054,860.3 1056,862.3 1058,864.2 1060,866.0 1062,867.8 1064,869.4 1066,871.1 1068,872.6 1070,874.2 1072,875.7 1074,877.2 1076,878.7 1078,880.1 1080,881.6 1082,883.1 1084,884.6 1086,886.0 1088,887.5 1090,889.0 1092,890.6 1094,892.1 1096,893.6 1098,895.2 1100,896.7 1102,898.3 1104,899.9 1106,901.4 1108,903.0 1110,904.6 1112,906.1 1114,907.7 1116,909.2 1118,910.7 1120,912.2 1122,913.7 1124,915.2 1126,916.6 1128,918.0 1130,919.4 1132,918.3 1134,919.3 1136,920.4 1138,921.4 1140,922.4 1142,923.5 1144,924.6 1146,925.7 1148,926.8 1150,928.0 1152,929.1 1154,930.2 1156,931.3 1158,932.3 1160,933.2 1162,934.1 1164,934.9 1166,935.5 1168,936.0 1170,936.5 1172,937.0 1174,937.5 1176,937.9 1178,938.3 1180,938.7 1182,939.0 1184,939.4 1186,939.7 1188,940.0 1190,940.3 1192,940.6 1194,940.9 1196,941.1 1198,941.4 1200,941.7 1202,941.9 1204,942.1 1206,942.4 1208,942.6 1210,942.8 1212,943.0 1214,943.2 1216,943.4 1218,943.5 1220,943.7 1222,943.9 1224,944.1 1226,944.2 1228,944.4 1230,944.6 1232,944.8 1234,944.9 1236,945.1 1238,945.2 1240,945.3 1242,945.4 1244,945.6 1246,945.7 1248,945.9 1250,946.0 1252,946.3 1254,946.5 1256,946.9 1258,947.6 1260,948.5 1262,949.3 1264,950.2 1266,951.2 1268,952.1 1270,952.5 1272,952.5 1274,952.3 1276,952.1 1278,951.9 1280,951.6 1282,951.3 1284,951.1 1286,950.7 1288,950.3 1290,949.9 1292,949.5 1294,949.0 1296,948.7 1298,948.3 1300,948.1 1302,948.0 1304,948.0 1306,948.0 1308,948.1 1310,948.1 1312,948.2 1314,948.4 1314,948.5" stroke="#555" stroke-width="1.8"/>
<path d="M512,937.1 514,937.0 516,937.0 518,936.9 520,936.9 522,936.8 524,936.7 526,936.6 528,936.6 530,936.5 532,936.4 534,936.3 536,936.2 538,936.0 540,935.9 542,935.8 544,935.6 546,935.5 548,935.3 550,935.2 552,935.0 554,934.8 556,934.6 558,934.4 560,934.2 562,934.0 564,933.7 566,933.5 568,933.2 570,933.0 572,932.7 574,932.4 576,932.1 578,931.8 580,931.5 582,931.2 584,930.8 586,930.5 588,930.1 590,929.8 592,929.4 594,929.0 596,928.6 598,928.2 600,927.8 602,927.4 604,927.0 606,926.6 608,926.2 610,925.8 612,925.4 614,924.9 616,924.5 618,924.1 620,923.7 622,923.3 624,922.9 626,922.5 628,922.1 630,921.7 632,921.3 634,921.0 636,920.6 638,920.3 640,920.0 642,919.7 644,919.4 646,919.1 648,918.9 650,918.6 652,918.4 654,918.2 656,918.0 658,917.9 660,917.8 662,917.7 664,917.6 666,917.5 668,917.5 670,917.5 672,917.5 674,917.5 676,917.6 678,917.6 680,917.7 682,917.8 684,917.9 686,918.1 688,918.3 690,918.4 692,918.6 694,918.8 696,919.1 698,919.3 700,919.6 702,919.9 704,920.1 706,920.4 708,920.8 710,921.1 712,921.4 714,921.8 716,922.1 718,922.5 720,922.9 722,923.2 724,923.6 726,924.0 728,924.4 730,924.8 732,925.2 734,925.6 736,926.0 738,926.4 740,926.8 742,927.2 744,927.6 746,928.0 748,928.4 750,928.8 752,929.2 754,929.6 756,929.9 758,930.3 760,930.7 762,931.0 764,931.4 766,931.8 768,932.1 770,932.4 772,932.8 774,933.1 776,933.4 778,933.7 780,934.0 782,934.3 784,934.6 786,934.9 788,935.2 790,935.4 792,935.7 794,935.9 796,936.2 798,936.4 800,936.6 802,936.9 804,937.1 806,937.3 808,937.5 810,937.7 812,937.9 814,938.1 816,938.3 818,938.5 820,938.6 822,938.8 824,939.0 826,939.1 828,939.3 830,939.4 832,939.6 834,939.7 836,939.9 838,940.0 840,940.2 842,940.3 844,940.4 846,940.6" stroke="#7F00FF" stroke-width="3.9"/>
<path d="M630,937.2 632,937.2 634,937.1 636,937.0 638,937.0 640,936.9 642,936.8 644,936.7 646,936.6 648,936.5 650,936.3 652,936.2 654,936.0 656,935.9 658,935.7 660,935.5 662,935.3 664,935.0 666,934.7 668,934.5 670,934.1 672,933.8 674,933.4 676,933.0 678,932.6 680,932.1 682,931.6 684,931.1 686,930.5 688,929.9 690,929.2 692,928.5 694,927.7 696,926.9 698,926.0 700,925.1 702,924.1 704,923.0 706,921.9 708,920.7 710,919.4 712,918.1 714,916.7 716,915.1 718,913.6 720,911.9 722,910.1 724,908.3 726,906.3 728,904.3 730,902.1 732,899.9 734,897.6 736,895.2 738,892.7 740,890.1 742,887.4 744,884.6 746,881.7 748,878.7 750,875.7 752,872.5 754,869.3 756,866.1 758,862.7 760,859.3 762,855.9 764,852.4 766,848.8 768,845.3 770,841.7 772,838.2 774,834.6 776,831.0 778,827.5 780,824.1 782,820.7 784,817.3 786,814.1 788,810.9 790,807.8 792,804.9 794,802.1 796,799.5 798,797.1 800,794.8 802,792.7 804,790.8 806,789.1 808,787.6 810,786.4 812,785.4 814,784.6 816,784.1 818,783.8 820,783.8 822,784.1 824,784.6 826,785.3 828,786.3 830,787.6 832,789.1 834,790.9 836,792.9 838,795.0 840,797.4 842,800.0 844,802.8 846,805.7 848,808.8 850,812.1 852,815.4 854,818.9 856,822.4 858,826.0 860,829.7 862,833.4 864,837.2 866,841.0 868,844.8 870,848.6 872,852.4 874,856.1 876,859.9 878,863.5 880,867.1 882,870.7 884,874.2 886,877.6 888,880.9 890,884.2 892,887.3 894,890.4 896,893.4 898,896.2 900,899.0 902,901.7 904,904.3 906,906.7 908,909.1 910,911.4 912,913.5 914,915.6 916,917.6 918,919.5 920,921.3 922,923.0 924,924.6 926,926.1 928,927.6 930,928.9 932,930.2 934,931.5 936,932.6 938,933.7 940,934.7 942,935.7 944,936.6 946,937.5 948,938.3 950,939.0 952,939.7 954,940.4 956,941.0 958,941.6 960,942.1 962,942.7 964,943.1 966,943.6 968,944.0 970,944.4 972,944.8 974,945.1 976,945.4 978,945.7 980,946.0 982,946.3 984,946.5 986,946.8 988,947.0 990,947.2 992,947.4 994,947.5 996,947.7 998,947.9 1000,948.0 1002,948.1 1004,948.3 1006,948.3" stroke="#008000" stroke-width="3.9"/>
<path d="M718,937.6 720,937.5 722,937.5 724,937.4 726,937.3 728,937.2 730,937.1 732,937.0 734,936.9 736,936.8 738,936.6 740,936.4 742,936.2 744,936.0 746,935.8 748,935.5 750,935.3 752,934.9 754,934.6 756,934.2 758,933.8 760,933.3 762,932.8 764,932.3 766,931.7 768,931.0 770,930.3 772,929.5 774,928.7 776,927.8 778,926.8 780,925.7 782,924.6 784,923.3 786,922.0 788,920.5 790,919.0 792,917.4 794,915.6 796,913.7 798,911.7 800,909.5 802,907.3 804,904.8 806,902.3 808,899.6 810,896.7 812,893.7 814,890.5 816,887.1 818,883.6 820,879.9 822,876.1 824,872.1 826,867.9 828,863.6 830,859.1 832,854.4 834,849.6 836,844.7 838,839.6 840,834.4 842,829.1 844,823.7 846,818.2 848,812.7 850,807.1 852,801.4 854,795.7 856,790.1 858,784.4 860,778.8 862,773.3 864,767.8 866,762.5 868,757.4 870,752.4 872,747.6 874,743.0 876,738.6 878,734.6 880,730.8 882,727.4 884,724.2 886,721.5 888,719.1 890,717.1 892,715.5 894,714.4 896,713.6 898,713.3 900,713.4 902,713.9 904,714.9 906,716.3 908,718.1 910,720.3 912,722.9 914,725.9 916,729.3 918,733.0 920,737.0 922,741.3 924,745.8 926,750.7 928,755.7 930,761.0 932,766.4 934,771.9 936,777.6 938,783.4 940,789.2 942,795.1 944,801.0 946,806.9 948,812.7 950,818.6 952,824.4 954,830.1 956,835.7 958,841.2 960,846.6 962,851.8 964,856.9 966,861.9 968,866.7 970,871.4 972,875.9 974,880.2 976,884.4 978,888.4 980,892.2 982,895.9 984,899.4 986,902.7 988,905.8 990,908.8 992,911.7 994,914.4 996,916.9 998,919.3 1000,921.5 1002,923.6 1004,925.6 1006,927.5 1008,929.2 1010,930.9 1012,932.4 1014,933.8 1016,935.1 1018,936.4 1020,937.5 1022,938.6 1024,939.5 1026,940.5 1028,941.3 1030,942.1 1032,942.8 1034,943.4 1036,944.0 1038,944.6 1040,945.1 1042,945.6 1044,946.0 1046,946.4 1048,946.8 1050,947.1 1052,947.4 1054,947.7 1056,947.9 1058,948.2 1060,948.4 1062,948.6 1064,948.8 1066,948.9 1068,949.1 1070,949.2 1072,949.3 1074,949.4 1076,949.5 1078,949.6 1078,949.7" stroke="#FF00FF" stroke-width="3.9"/>
<path d="M804,939.0 806,939.0 808,939.0 810,938.9 812,938.9 814,938.9 816,938.8 818,938.8 820,938.7 822,938.6 824,938.5 826,938.4 828,938.2 830,938.1 832,937.9 834,937.7 836,937.4 838,937.2 840,936.9 842,936.5 844,936.1 846,935.7 848,935.3 850,934.7 852,934.2 854,933.5 856,932.8 858,932.1 860,931.3 862,930.3 864,929.4 866,928.3 868,927.1 870,925.9 872,924.5 874,923.0 876,921.5 878,919.8 880,917.9 882,916.0 884,913.9 886,911.6 888,909.3 890,906.7 892,904.1 894,901.2 896,898.2 898,895.0 900,891.7 902,888.2 904,884.5 906,880.7 908,876.6 910,872.5 912,868.1 914,863.6 916,859.0 918,854.2 920,849.2 922,844.2 924,839.0 926,833.8 928,828.5 930,823.1 932,817.7 934,812.3 936,806.9 938,801.6 940,796.3 942,791.1 944,786.0 946,781.1 948,776.4 950,771.9 952,767.7 954,763.7 956,760.1 958,756.7 960,753.8 962,751.2 964,749.1 966,747.4 968,746.1 970,745.2 972,744.9 974,745.0 976,745.6 978,746.7 980,748.4 982,750.6 984,753.2 986,756.4 988,759.9 990,763.9 992,768.2 994,772.8 996,777.8 998,783.0 1000,788.4 1002,794.0 1004,799.8 1006,805.6 1008,811.5 1010,817.5 1012,823.5 1014,829.4 1016,835.3 1018,841.1 1020,846.9 1022,852.5 1024,857.9 1026,863.2 1028,868.4 1030,873.4 1032,878.2 1034,882.8 1036,887.2 1038,891.4 1040,895.5 1042,899.3 1044,902.9 1046,906.4 1048,909.6 1050,912.7 1052,915.6 1054,918.3 1056,920.9 1058,923.2 1060,925.5 1062,927.5 1064,929.5 1066,931.3 1068,932.9 1070,934.5 1072,935.9 1074,937.2 1076,938.4 1078,939.5 1080,940.6 1082,941.5 1084,942.4 1086,943.2 1088,943.9 1090,944.6 1092,945.2 1094,945.7 1096,946.2 1098,946.7 1100,947.1 1102,947.5 1104,947.8 1106,948.1 1108,948.4 1110,948.6 1112,948.9 1114,949.1 1116,949.2 1118,949.4 1120,949.5 1122,949.7 1124,949.8 1126,949.9 1128,950.0 1130,950.1" stroke="#0000FF" stroke-width="3.9"/>
<path d="M894,942.9 896,942.9 898,943.0 900,943.0 902,943.1 904,943.1 906,943.2 908,943.2 910,943.2 912,943.2 914,943.2 916,943.2 918,943.2 920,943.2 922,943.2 924,943.1 926,943.1 928,943.0 930,943.0 932,942.9 934,942.8 936,942.7 938,942.5 940,942.4 942,942.2 944,942.1 946,941.9 948,941.6 950,941.4 952,941.1 954,940.9 956,940.5 958,940.2 960,939.9 962,939.5 964,939.1 966,938.6 968,938.1 970,937.6 972,937.1 974,936.5 976,935.9 978,935.3 980,934.6 982,933.9 984,933.2 986,932.4 988,931.6 990,930.7 992,929.9 994,928.9 996,928.0 998,927.0 1000,925.9 1002,924.9 1004,923.7 1006,922.6 1008,921.4 1010,920.2 1012,919.0 1014,917.8 1016,916.5 1018,915.2 1020,913.9 1022,912.6 1024,911.3 1026,910.0 1028,908.6 1030,907.3 1032,906.0 1034,904.7 1036,903.5 1038,902.2 1040,901.0 1042,899.9 1044,898.7 1046,897.7 1048,896.7 1050,895.7 1052,894.8 1054,894.0 1056,893.3 1058,892.7 1060,892.1 1062,891.6 1064,891.3 1066,891.0 1068,890.8 1070,890.7 1072,890.7 1074,890.8 1076,891.0 1078,891.3 1080,891.7 1082,892.2 1084,892.8 1086,893.5 1088,894.2 1090,895.1 1092,896.0 1094,896.9 1096,898.0 1098,899.0 1100,900.2 1102,901.4 1104,902.6 1106,903.9 1108,905.2 1110,906.5 1112,907.8 1114,909.2 1116,910.5 1118,911.9 1120,913.3 1122,914.6 1124,916.0 1126,917.3 1128,918.7 1130,920.0 1132,921.3 1134,922.5 1136,923.8 1138,925.0 1140,926.2 1142,927.3 1144,928.5 1146,929.5 1148,930.6 1150,931.6 1152,932.6 1154,933.6 1156,934.5 1158,935.4 1160,936.2 1162,937.0 1164,937.8 1166,938.5 1168,939.3 1170,939.9 1172,940.6 1174,941.2 1176,941.8 1178,942.3 1180,942.9 1182,943.4 1184,943.8 1186,944.3 1188,944.7 1190,945.1 1192,945.5 1194,945.9 1196,946.2 1198,946.5 1200,946.8 1202,947.1 1204,947.4 1206,947.6 1208,947.8 1210,948.1 1212,948.3 1214,948.4 1216,948.6 1218,948.8 1220,948.9 1222,949.1 1224,949.2 1226,949.3 1228,949.5 1230,949.6 1232,949.7 1234,949.8 1236,949.8 1238,949.9 1240,950.0 1242,950.1 1244,950.1 1246,950.2 1248,950.2 1250,950.3" stroke="#FF0000" stroke-width="3.9"/>
<path d="M126,933.1 128,933.3 130,933.8 132,934.5 134,935.2 136,935.9 138,936.5 140,937.0 142,937.3 144,937.4 146,937.5 148,937.6 150,937.6 152,937.6 154,937.6 156,937.6 158,937.6 160,937.6 162,937.6 164,937.6 166,937.6 168,937.6 170,937.6 172,937.6 174,937.6 176,937.6 178,937.6 180,937.6 182,937.6 184,937.6 186,937.6 188,937.6 190,937.6 192,937.6 194,937.6 196,937.6 198,937.6 200,937.6 202,937.6 204,937.6 206,937.6 208,937.6 210,937.6 212,937.6 214,937.6 216,937.6 218,937.6 220,937.6 222,937.6 224,937.6 226,937.6 228,937.6 230,937.6 232,937.6 234,937.6 236,937.6 238,937.6 240,937.6 242,937.6 244,937.6 246,937.6 248,937.6 250,937.6 252,937.6 254,937.6 256,937.6 258,937.6 260,937.6 262,937.6 264,937.6 266,937.6 268,937.6 270,937.6 272,937.6 274,937.6 276,937.6 278,937.6 280,937.6 282,937.6 284,937.6 286,937.6 288,937.6 290,937.6 292,937.6 294,937.6 296,937.6 298,937.6 300,937.6 302,937.6 304,937.6 306,937.6 308,937.6 310,937.6 312,937.6 314,937.6 316,937.6 318,937.6 320,937.6 322,937.6 324,937.6 326,937.6 328,937.6 330,937.6 332,937.6 334,937.6 336,937.6 338,937.6 340,937.6 342,937.6 344,937.6 346,937.6 348,937.6 350,937.6 352,937.6 354,937.6 356,937.6 358,937.6 360,937.6 362,937.6 364,937.6 366,937.6 368,937.6 370,937.6 372,937.6 374,937.6 376,937.6 378,937.6 380,937.6 382,937.6 384,937.6 386,937.6 388,937.6 390,937.6 392,937.6 394,937.6 396,937.6 398,937.6 400,937.6 402,937.6 404,937.6 406,937.6 408,937.6 410,937.6 412,937.6 414,937.6 416,937.6 418,937.6 420,937.6 422,937.6 424,937.6 426,937.6 428,937.6 430,937.6 432,937.6 434,937.6 436,937.6 438,937.6 440,937.6 442,937.6 444,937.6 446,937.6 448,937.6 450,937.6 452,937.6 454,937.6 456,937.6 458,937.6 460,937.6 462,937.6 464,937.6 466,937.6 468,937.6 470,937.6 472,937.6 474,937.6 476,937.6 478,937.6 480,937.6 482,937.6 484,937.6 486,937.6 488,937.6 490,937.6 492,937.6 494,937.6 496,937.6 498,937.6 500,937.6 502,937.6 504,937.6 506,937.6 508,937.6 510,937.6 512,937.6 514,937.6 516,937.6 518,937.6 520,937.6 522,937.6 524,937.6 526,937.6 528,937.6 530,937.6 532,937.6 534,937.6 536,937.6 538,937.6 540,937.6 542,937.6 544,937.6 546,937.6 548,937.6 550,937.6 552,937.6 554,937.6 556,937.6 558,937.6 560,937.6 562,937.6 564,937.6 566,937.6 568,937.6 570,937.6 572,937.6 574,937.6 576,937.6 578,937.6 580,937.6 582,937.6 584,937.6 586,937.6 588,937.6 590,937.6 592,937.6 594,937.6 596,937.6 598,937.7 600,937.7 602,937.7 604,937.7 606,937.7 608,937.7 610,937.7 612,937.7 614,937.7 616,937.7 618,937.7 620,937.7 622,937.7 624,937.7 626,937.7 628,937.7 630,937.7 632,937.7 634,937.7 636,937.7 638,937.7 640,937.7 642,937.8 644,937.8 646,937.8 648,937.8 650,937.8 652,937.8 654,937.8 656,937.8 658,937.8 660,937.8 662,937.8 664,937.8 666,937.8 668,937.8 670,937.8 672,937.9 674,937.9 676,937.9 678,937.9 680,937.9 682,937.9 684,937.9 686,937.9 688,937.9 690,937.9 692,937.9 694,938.0 696,938.0 698,938.0 700,938.0 702,938.0 704,938.0 706,938.0 708,938.0 710,938.0 712,938.0 714,938.1 716,938.1 718,938.1 720,938.1 722,938.1 724,938.1 726,938.1 728,938.2 730,938.2 732,938.2 734,938.2 736,938.2 738,938.2 740,938.3 742,938.3 744,938.3 746,938.3 748,938.3 750,938.4 752,938.4 754,938.4 756,938.4 758,938.5 760,938.5 762,938.5 764,938.6 766,938.6 768,938.6 770,938.7 772,938.7 774,938.7 776,938.8 778,938.8 780,938.9 782,938.9 784,938.9 786,939.0 788,939.0 790,939.1 792,939.1 794,939.2 796,939.2 798,939.3 800,939.4 802,939.4 804,939.5 806,939.5 808,939.6 810,939.7 812,939.7 814,939.8 816,939.9 818,939.9 820,940.0 822,940.1 824,940.1 826,940.2 828,940.3 830,940.4 832,940.5 834,940.5 836,940.6 838,940.7 840,940.8 842,940.9 844,940.9 846,941.0 848,941.1 850,941.2 852,941.3 854,941.4 856,941.5 858,941.6 860,941.7 862,941.8 864,941.9 866,942.0 868,942.0 870,942.1 872,942.2 874,942.3 876,942.4 878,942.5 880,942.7 882,942.8 884,942.9 886,943.0 888,943.1 890,943.2 892,943.3 894,943.4 896,943.5 898,943.6 900,943.7 902,943.8 904,943.9 906,944.0 908,944.1 910,944.2 912,944.4 914,944.5 916,944.6 918,944.7 920,944.8 922,944.9 924,945.0 926,945.1 928,945.2 930,945.3 932,945.4 934,945.5 936,945.6 938,945.8 940,945.9 942,946.0 944,946.1 946,946.2 948,946.3 950,946.4 952,946.5 954,946.6 956,946.7 958,946.8 960,946.9 962,947.0 964,947.1 966,947.2 968,947.3 970,947.4 972,947.5 974,947.6 976,947.7 978,947.7 980,947.8 982,947.9 984,948.0 986,948.1 988,948.2 990,948.3 992,948.3 994,948.4 996,948.5 998,948.6 1000,948.6 1002,948.7 1004,948.8 1006,948.8 1008,948.9 1010,949.0 1012,949.0 1014,949.1 1016,949.1 1018,949.2 1020,949.2 1022,949.3 1024,949.3 1026,949.4 1028,949.4 1030,949.5 1032,949.5 1034,949.5 1036,949.6 1038,949.6 1040,949.6 1042,949.7 1044,949.7 1046,949.7 1048,949.8 1050,949.8 1052,949.8 1054,949.9 1056,949.9 1058,949.9 1060,950.0 1062,950.0 1064,950.0 1066,950.0 1068,950.1 1070,950.1 1072,950.1 1074,950.1 1076,950.2 1078,950.2 1080,950.2 1082,950.2 1084,950.3 1086,950.3 1088,950.3 1090,950.3 1092,950.3 1094,950.4 1096,950.4 1098,950.4 1100,950.4 1102,950.4 1104,950.4 1106,950.5 1108,950.5 1110,950.5 1112,950.5 1114,950.5 1116,950.5 1118,950.5 1120,950.6 1122,950.6 1124,950.6 1126,950.6 1128,950.6 1130,950.6 1132,950.6 1134,950.6 1136,950.6 1138,950.7 1140,950.7 1142,950.7 1144,950.7 1146,950.7 1148,950.7 1150,950.7 1152,950.7 1154,950.7 1156,950.7 1158,950.7 1160,950.7 1162,950.7 1164,950.7 1166,950.7 1168,950.7 1170,950.7 1172,950.8 1174,950.8 1176,950.8 1178,950.8 1180,950.8 1182,950.8 1184,950.8 1186,950.8 1188,950.8 1190,950.8 1192,950.8 1194,950.8 1196,950.8 1198,950.8 1200,950.8 1202,950.8 1204,950.8 1206,950.8 1208,950.8 1210,950.8 1212,950.8 1214,950.8 1216,950.8 1218,950.8 1220,950.8 1222,950.8 1224,950.8 1226,950.8 1228,950.8 1230,950.8 1232,950.8 1234,950.8 1236,950.8 1238,950.8 1240,950.8 1242,950.8 1244,950.8 1246,950.8 1248,950.8 1250,950.8 1252,950.8 1254,950.8 1256,950.8 1258,950.8 1260,950.8 1262,950.8 1264,950.8 1266,950.8 1268,950.8 1270,950.8 1272,950.8 1274,950.8 1276,950.8 1278,950.8 1280,950.8 1282,950.8 1284,950.8 1286,950.8 1288,950.8 1290,950.8 1292,950.8 1294,950.8 1296,950.8 1298,950.8 1300,950.8 1302,950.8 1304,950.8 1306,950.8 1308,950.8 1310,950.8 1312,950.8 1314,950.8 1314,950.8" stroke="#808080" stroke-width="4"/>
<path d="M126,933.1 128,933.3 130,933.8 132,934.5 134,935.2 136,935.9 138,936.5 140,937.0 142,937.3 144,937.4 146,937.5 148,937.6 150,937.6 152,937.6 154,937.6 156,937.6 158,937.6 160,937.6 162,937.6 164,937.6 166,937.6 168,937.6 170,937.6 172,937.6 174,937.6 176,937.6 178,937.6 180,937.6 182,937.6 184,937.6 186,937.6 188,937.6 190,937.6 192,937.6 194,937.6 196,937.6 198,937.6 200,937.6 202,937.6 204,937.6 206,937.6 208,937.6 210,937.6 212,937.6 214,937.6 216,937.6 218,937.6 220,937.6 222,937.6 224,937.6 226,937.6 228,937.6 230,937.6 232,937.6 234,937.6 236,937.6 238,937.6 240,937.6 242,937.6 244,937.6 246,937.6 248,937.6 250,937.6 252,937.6 254,937.6 256,937.6 258,937.6 260,937.6 262,937.6 264,937.6 266,937.6 268,937.6 270,937.6 272,937.6 274,937.6 276,937.6 278,937.6 280,937.6 282,937.6 284,937.6 286,937.6 288,937.6 290,937.6 292,937.6 294,937.6 296,937.6 298,937.6 300,937.6 302,937.6 304,937.6 306,937.6 308,937.6 310,937.6 312,937.6 314,937.6 316,937.6 318,937.6 320,937.6 322,937.6 324,937.6 326,937.6 328,937.6 330,937.6 332,937.6 334,937.6 336,937.6 338,937.6 340,937.6 342,937.6 344,937.6 346,937.6 348,937.6 350,937.6 352,937.6 354,937.6 356,937.6 358,937.6 360,937.6 362,937.6 364,937.6 366,937.6 368,937.6 370,937.6 372,937.6 374,937.6 376,937.6 378,937.6 380,937.6 382,937.6 384,937.6 386,937.6 388,937.6 390,937.6 392,937.6 394,937.6 396,937.6 398,937.6 400,937.6 402,937.6 404,937.6 406,937.6 408,937.6 410,937.6 412,937.6 414,937.6 416,937.6 418,937.6 420,937.6 422,937.6 424,937.6 426,937.6 428,937.6 430,937.6 432,937.6 434,937.6 436,937.6 438,937.6 440,937.6 442,937.6 444,937.6 446,937.6 448,937.6 450,937.6 452,937.6 454,937.6 456,937.6 458,937.6 460,937.6 462,937.6 464,937.6 466,937.6 468,937.6 470,937.5 472,937.5 474,937.5 476,937.5 478,937.5 480,937.5 482,937.5 484,937.5 486,937.5 488,937.5 490,937.4 492,937.4 494,937.4 496,937.4 498,937.4 500,937.3 502,937.3 504,937.3 506,937.2 508,937.2 510,937.2 512,937.1 514,937.1 516,937.0 518,937.0 520,936.9 522,936.8 524,936.8 526,936.7 528,936.6 530,936.5 532,936.4 534,936.3 536,936.2 538,936.1 540,936.0 542,935.9 544,935.7 546,935.6 548,935.4 550,935.3 552,935.1 554,934.9 556,934.7 558,934.5 560,934.3 562,934.1 564,933.9 566,933.6 568,933.4 570,933.1 572,932.8 574,932.5 576,932.2 578,931.9 580,931.6 582,931.3 584,931.0 586,930.6 588,930.3 590,929.9 592,929.5 594,929.1 596,928.7 598,928.3 600,927.9 602,927.5 604,927.1 606,926.7 608,926.3 610,925.8 612,925.4 614,924.9 616,924.5 618,924.1 620,923.6 622,923.2 624,922.7 626,922.3 628,921.9 630,921.4 632,921.0 634,920.6 636,920.1 638,919.7 640,919.3 642,918.9 644,918.5 646,918.1 648,917.7 650,917.4 652,917.0 654,916.6 656,916.3 658,915.9 660,915.6 662,915.2 664,914.9 666,914.6 668,914.2 670,913.9 672,913.6 674,913.2 676,912.9 678,912.5 680,912.1 682,911.7 684,911.3 686,910.9 688,910.4 690,909.9 692,909.4 694,908.8 696,908.2 698,907.6 700,906.9 702,906.1 704,905.4 706,904.5 708,903.6 710,902.7 712,901.6 714,900.5 716,899.3 718,898.1 720,896.7 722,895.3 724,893.8 726,892.1 728,890.4 730,888.6 732,886.7 734,884.7 736,882.5 738,880.3 740,877.9 742,875.4 744,872.8 746,870.1 748,867.3 750,864.3 752,861.2 754,858.1 756,854.8 758,851.3 760,847.8 762,844.2 764,840.5 766,836.6 768,832.7 770,828.7 772,824.6 774,820.4 776,816.2 778,811.9 780,807.6 782,803.2 784,798.7 786,794.3 788,789.8 790,785.3 792,780.8 794,776.3 796,771.8 798,767.3 800,762.8 802,758.4 804,754.1 806,749.7 808,745.4 810,741.2 812,737.0 814,732.9 816,728.9 818,724.9 820,720.9 822,717.1 824,713.3 826,709.6 828,705.9 830,702.3 832,698.8 834,695.3 836,691.9 838,688.6 840,685.3 842,682.0 844,678.8 846,675.6 848,672.4 850,669.3 852,666.2 854,663.1 856,660.1 858,657.1 860,654.2 862,651.3 864,648.5 866,645.7 868,642.9 870,640.3 872,637.7 874,635.2 876,632.8 878,630.6 880,628.4 882,626.4 884,624.5 886,622.7 888,621.1 890,619.6 892,618.3 894,617.1 896,616.1 898,615.3 900,614.6 902,614.1 904,613.7 906,613.5 908,613.4 910,613.5 912,613.6 914,613.9 916,614.3 918,614.8 920,615.4 922,616.1 924,616.8 926,617.6 928,618.4 930,619.3 932,620.3 934,621.2 936,622.3 938,623.4 940,624.5 942,625.7 944,627.0 946,628.4 948,629.8 950,631.4 952,633.1 954,634.9 956,636.9 958,639.1 960,641.4 962,644.0 964,646.7 966,649.7 968,652.9 970,656.3 972,660.0 974,664.0 976,668.2 978,672.8 980,677.6 982,682.8 984,688.2 986,693.8 988,699.7 990,705.7 992,712.0 994,718.3 996,724.8 998,731.3 1000,737.9 1002,744.5 1004,751.0 1006,757.5 1008,764.0 1010,770.3 1012,776.5 1014,782.5 1016,788.4 1018,794.1 1020,799.6 1022,804.9 1024,809.9 1026,814.8 1028,819.4 1030,823.7 1032,827.9 1034,831.8 1036,835.5 1038,839.0 1040,842.3 1042,845.3 1044,848.2 1046,850.9 1048,853.5 1050,855.9 1052,858.1 1054,860.3 1056,862.3 1058,864.2 1060,866.0 1062,867.8 1064,869.4 1066,871.1 1068,872.6 1070,874.2 1072,875.7 1074,877.2 1076,878.7 1078,880.1 1080,881.6 1082,883.1 1084,884.6 1086,886.0 1088,887.5 1090,889.0 1092,890.6 1094,892.1 1096,893.6 1098,895.2 1100,896.7 1102,898.3 1104,899.9 1106,901.4 1108,903.0 1110,904.6 1112,906.1 1114,907.7 1116,909.2 1118,910.7 1120,912.2 1122,913.7 1124,915.2 1126,916.6 1128,918.0 1130,919.4 1132,920.8 1134,922.1 1136,923.4 1138,924.7 1140,925.9 1142,927.1 1144,928.2 1146,929.4 1148,930.4 1150,931.5 1152,932.5 1154,933.5 1156,934.4 1158,935.3 1160,936.1 1162,937.0 1164,937.7 1166,938.5 1168,939.2 1170,939.9 1172,940.6 1174,941.2 1176,941.8 1178,942.3 1180,942.9 1182,943.4 1184,943.8 1186,944.3 1188,944.7 1190,945.1 1192,945.5 1194,945.9 1196,946.2 1198,946.5 1200,946.8 1202,947.1 1204,947.4 1206,947.6 1208,947.8 1210,948.1 1212,948.3 1214,948.4 1216,948.6 1218,948.8 1220,948.9 1222,949.1 1224,949.2 1226,949.3 1228,949.5 1230,949.6 1232,949.7 1234,949.8 1236,949.8 1238,949.9 1240,950.0 1242,950.1 1244,950.1 1246,950.2 1248,950.2 1250,950.3 1252,950.3 1254,950.4 1256,950.4 1258,950.4 1260,950.5 1262,950.5 1264,950.5 1266,950.6 1268,950.6 1270,950.6 1272,950.6 1274,950.6 1276,950.7 1278,950.7 1280,950.7 1282,950.7 1284,950.7 1286,950.7 1288,950.7 1290,950.7 1292,950.7 1294,950.7 1296,950.7 1298,950.8 1300,950.8 1302,950.8 1304,950.8 1306,950.8 1308,950.8 1310,950.8 1312,950.8 1314,950.8 1314,950.8" stroke="#00FFFF" stroke-width="5"/>
</g>
<line x1="673.5" y1="142.8" x2="673.5" y2="930.5" stroke="#2b2b2b" stroke-width="2.5" stroke-dasharray="12.6 10.5" stroke-dashoffset="10.4"/>
<line x1="822.8" y1="148.0" x2="822.8" y2="843.2" stroke="#2b2b2b" stroke-width="2.5" stroke-dasharray="12.6 10.5" stroke-dashoffset="10.4"/>
<line x1="894.3" y1="145.0" x2="894.3" y2="840.2" stroke="#2b2b2b" stroke-width="2.5" stroke-dasharray="12.6 10.5" stroke-dashoffset="10.4"/>
<line x1="970.9" y1="144.3" x2="970.9" y2="840.2" stroke="#2b2b2b" stroke-width="2.5" stroke-dasharray="12.6 10.5" stroke-dashoffset="10.4"/>
<line x1="1068.8" y1="145.9" x2="1068.8" y2="934.0" stroke="#2b2b2b" stroke-width="2.5" stroke-dasharray="12.6 10.5" stroke-dashoffset="10.4"/>
<line x1="1072.5" y1="355.0" x2="1112.1" y2="303.5" stroke="#FF0000" stroke-width="3.6" stroke-dasharray="11.5 10.5"/><polygon points="1130.7,279.3 1117.2,309.9 1104.5,300.2" fill="#FF0000"/><line x1="1075.5" y1="890.5" x2="1116.6" y2="841.3" stroke="#FF0000" stroke-width="3.6" stroke-dasharray="11.5 10.5"/><polygon points="1135.8,818.3 1121.4,848.0 1109.1,837.7" fill="#FF0000"/>
<g fill="none" stroke="#000" stroke-width="4">
<rect x="125.5" y="47.2" width="1189.7" height="959.3"/>
<line x1="125.5" y1="527.5" x2="1315.2" y2="527.5"/>
</g>
<g stroke="#000" stroke-width="3.8"><line x1="1315.2" y1="527.5" x2="1315.2" y2="545.5" /><line x1="1315.2" y1="1006.5" x2="1315.2" y2="1024.5" /><line x1="1235.9" y1="527.5" x2="1235.9" y2="537.0" /><line x1="1235.9" y1="1006.5" x2="1235.9" y2="1016.0" /><line x1="1156.6" y1="527.5" x2="1156.6" y2="545.5" /><line x1="1156.6" y1="1006.5" x2="1156.6" y2="1024.5" /><line x1="1077.3" y1="527.5" x2="1077.3" y2="537.0" /><line x1="1077.3" y1="1006.5" x2="1077.3" y2="1016.0" /><line x1="997.9" y1="527.5" x2="997.9" y2="545.5" /><line x1="997.9" y1="1006.5" x2="997.9" y2="1024.5" /><line x1="918.6" y1="527.5" x2="918.6" y2="537.0" /><line x1="918.6" y1="1006.5" x2="918.6" y2="1016.0" /><line x1="839.3" y1="527.5" x2="839.3" y2="545.5" /><line x1="839.3" y1="1006.5" x2="839.3" y2="1024.5" /><line x1="760.0" y1="527.5" x2="760.0" y2="537.0" /><line x1="760.0" y1="1006.5" x2="760.0" y2="1016.0" /><line x1="680.7" y1="527.5" x2="680.7" y2="545.5" /><line x1="680.7" y1="1006.5" x2="680.7" y2="1024.5" /><line x1="601.4" y1="527.5" x2="601.4" y2="537.0" /><line x1="601.4" y1="1006.5" x2="601.4" y2="1016.0" /><line x1="522.1" y1="527.5" x2="522.1" y2="545.5" /><line x1="522.1" y1="1006.5" x2="522.1" y2="1024.5" /><line x1="442.8" y1="527.5" x2="442.8" y2="537.0" /><line x1="442.8" y1="1006.5" x2="442.8" y2="1016.0" /><line x1="363.4" y1="527.5" x2="363.4" y2="545.5" /><line x1="363.4" y1="1006.5" x2="363.4" y2="1024.5" /><line x1="284.1" y1="527.5" x2="284.1" y2="537.0" /><line x1="284.1" y1="1006.5" x2="284.1" y2="1016.0" /><line x1="204.8" y1="527.5" x2="204.8" y2="545.5" /><line x1="204.8" y1="1006.5" x2="204.8" y2="1024.5" /><line x1="125.5" y1="527.5" x2="125.5" y2="537.0" /><line x1="125.5" y1="1006.5" x2="125.5" y2="1016.0" /></g>
<g font-size="65" fill="#000"><text transform="translate(1315.8,1088.2) scale(0.99,1.045)" text-anchor="middle">528</text><text transform="translate(1157.2,1088.2) scale(0.99,1.045)" text-anchor="middle">530</text><text transform="translate(998.5,1088.2) scale(0.99,1.045)" text-anchor="middle">532</text><text transform="translate(839.9,1088.2) scale(0.99,1.045)" text-anchor="middle">534</text><text transform="translate(681.3,1088.2) scale(0.99,1.045)" text-anchor="middle">536</text><text transform="translate(522.7,1088.2) scale(0.99,1.045)" text-anchor="middle">538</text><text transform="translate(364.0,1088.2) scale(0.99,1.045)" text-anchor="middle">540</text><text transform="translate(205.4,1088.2) scale(0.99,1.045)" text-anchor="middle">542</text></g>
<text x="141.6" y="121" font-size="64" font-weight="bold">O 1s</text>
<g font-size="64" fill="#000">
<text x="148.8" y="378.3">PC-bic</text>
<text x="149.1" y="863.4">PC-oxa</text>
<text x="572.6" y="108.5">O<tspan font-size="43" dy="16">G5</tspan></text><text x="722.4" y="108.5">O<tspan font-size="43" dy="16">G4</tspan></text><text x="845.0" y="108.5">O<tspan font-size="43" dy="16">G3</tspan></text><text x="958.2" y="108.5">O<tspan font-size="43" dy="16">G2</tspan></text><text x="1065.4" y="108.5">O<tspan font-size="43" dy="16">G1</tspan></text>
</g>
<g font-size="64" fill="#FF0000">
<text x="1138.3" y="220">molar</text>
<text x="1138.3" y="298.2">ratio</text>
<text transform="translate(1135.6,377.2) scale(1.025,1.045)">=11.4</text>
<text x="1150.1" y="747.1">molar</text>
<text x="1150.1" y="826.1">ratio</text>
<text transform="translate(1148.3,904) scale(1.0,1.04)">=9.9</text>
</g>
<text x="381.2" y="1203.4" font-size="82">Binding Energy / eV</text>
<text transform="translate(77,766.5) rotate(-90)" font-size="82">Intensity / a.u.</text>
</svg>
</body></html>
